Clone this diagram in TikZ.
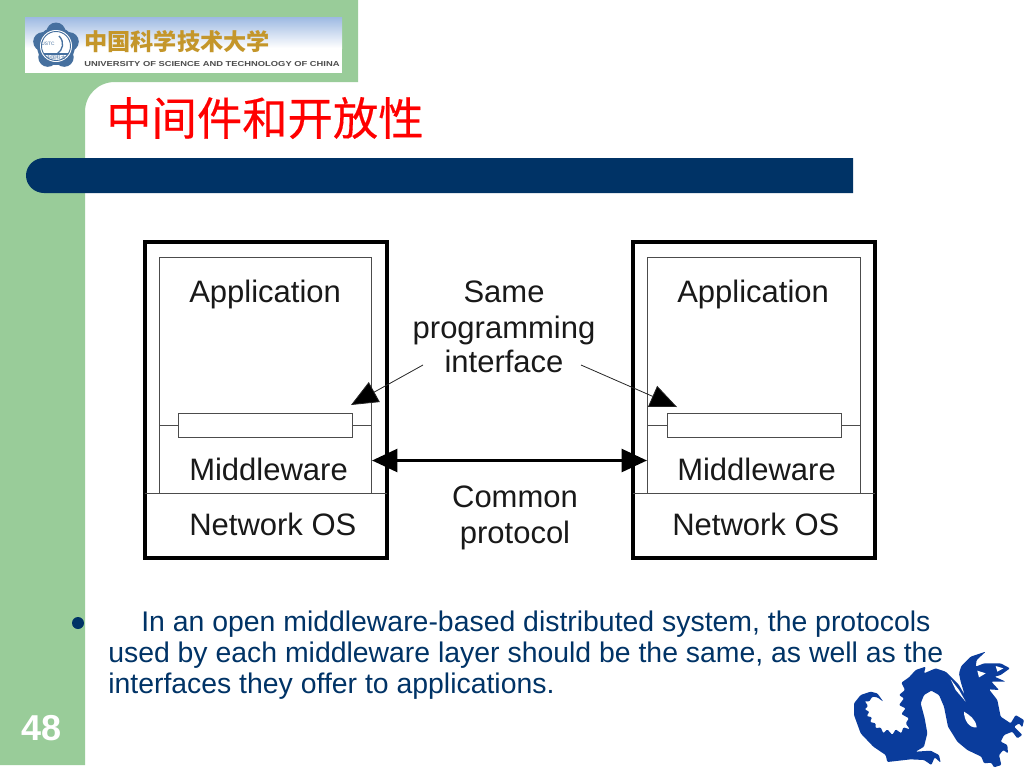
\documentclass[tikz,border=0pt]{standalone}
\usepackage{fontspec}
\setmainfont{Liberation Sans}
\newfontfamily\cjk{Noto Sans CJK SC}
\newfontfamily\cjktitle[FakeBold=0.3]{Noto Sans CJK SC}
\newfontfamily\wideen[FakeStretch=1.3]{Liberation Sans Bold}
\usetikzlibrary{arrows.meta}
\definecolor{stripgreen}{HTML}{99CC99}
\definecolor{navy}{HTML}{003366}
\definecolor{dragonblue}{HTML}{0A3C9C}
\definecolor{logoblue}{HTML}{9DB9E2}
\definecolor{sealblue}{HTML}{46709F}
\definecolor{gold}{HTML}{C4962A}
\tikzset{
 x=0.75pt,y=-0.75pt,
 outerbox/.style={draw=black,line width=3pt,inner sep=0,outer sep=0,minimum width=242*0.75pt,minimum height=316*0.75pt,anchor=north west},
 innerbox/.style={draw=black!70,line width=0.75pt,inner sep=0,outer sep=0,anchor=north west},
 thinline/.style={draw=black!70,line width=0.75pt},
 label/.style={anchor=base west,inner sep=0,font=\fontsize{23.25pt}{28pt}\selectfont,text=black!90},
 clabel/.style={anchor=base,inner sep=0,font=\fontsize{23.25pt}{28pt}\selectfont,text=black!90},
 bodyline/.style={anchor=base west,inner sep=0,font=\fontsize{21.3pt}{24pt}\selectfont,text=navy},
 thinarrow/.style={draw=black!85,line width=0.6pt,-{Triangle[length=20pt,width=17pt,fill=black]}},
 thickarrow/.style={draw=black,line width=2.6pt,{Triangle[length=19pt,width=17pt,fill=black]}-{Triangle[length=19pt,width=17pt,fill=black]}},
}
\begin{document}
\begin{tikzpicture}
\useasboundingbox (0,0) rectangle (1024,768);
% slide background
\fill[white] (0,0) rectangle (1024,768);
\fill[stripgreen] (0,0) -- (358,0) -- (358,82) -- (115,82) .. controls (98,82) and (85,95) .. (85,112) -- (85,765) -- (0,765) -- cycle;
\fill[navy] (44,158) -- (853,158) -- (853,193) -- (44,193) .. controls (34,193) and (26,185) .. (26,175.5) .. controls (26,166) and (34,158) .. (44,158) -- cycle;
% logo
\fill[white] (25,17) rectangle (342,73);
\shade[top color=logoblue,bottom color=white] (25,17) rectangle (342,48);
\fill[sealblue] (56,46) circle[radius=19];
\foreach \a in {0,72,144,216,288}{\fill[sealblue] (56,46)+(\a+90:-14) circle[radius=9.5];}
\fill[white] (56,46) circle[radius=16];
\draw[sealblue,line width=0.7pt] (56,46) circle[radius=14.5];
\draw[sealblue,line width=1pt] (44,54) -- (68,54);
\draw[sealblue,line width=1pt] (59,36) .. controls (65,42) and (63,50) .. (57,54);
\node[inner sep=0,text=sealblue,font=\fontsize{3.6pt}{5pt}\selectfont] (seal) at (48,44) {USTC};
\node[inner sep=0,text=sealblue,font=\cjk\fontsize{3.6pt}{5pt}\selectfont] (sealcn) at (56,58) {中国科大};
\node[inner sep=0,text=gold,anchor=west,font=\cjk\bfseries\fontsize{17.4pt}{20pt}\selectfont] (logocn) at (84,42) {中国科学技术大学};
\node[inner sep=0,text=black!70,anchor=west,font=\wideen\fontsize{5.4pt}{6pt}\selectfont] (logoen) at (84,64) {UNIVERSITY OF  SCIENCE AND TECHNOLOGY OF CHINA};
% title
\node[inner sep=0,anchor=west,text=red,font=\cjktitle\fontsize{34pt}{40pt}\selectfont] (title) at (106,118) {中间件和开放性};
% left machine
\node[outerbox] (lo) at (144.5,241.5) {};
\node[innerbox,minimum width=212*0.75pt,minimum height=236*0.75pt] (li) at (159,257) {};
\draw[thinline] (lo.west |- 0,493) coordinate (lsa) -- (lo.east |- 0,493) coordinate (lsb);
\node[innerbox,fill=white,minimum width=174*0.75pt,minimum height=24*0.75pt] (lm) at (178,413) {};
\draw[thinline] (li.west |- lm.west) -- (lm.west);
\draw[thinline] (lm.east) -- (li.east |- lm.east);
\node[label] (lapp) at (189,302) {Application};
\node[label] (lmid) at (189,480) {Middleware};
\node[label] (los) at (189,535) {Network OS};
% right machine
\node[outerbox] (ro) at (632.5,241.5) {};
\node[innerbox,minimum width=213*0.75pt,minimum height=236*0.75pt] (ri) at (647,257) {};
\draw[thinline] (ro.west |- 0,493) coordinate (rsa) -- (ro.east |- 0,493) coordinate (rsb);
\node[innerbox,fill=white,minimum width=174*0.75pt,minimum height=24*0.75pt] (rm) at (667,413) {};
\draw[thinline] (ri.west |- rm.west) -- (rm.west);
\draw[thinline] (rm.east) -- (ri.east |- rm.east);
\node[label] (rapp) at (677,302) {Application};
\node[label] (rmid) at (677,480) {Middleware};
\node[label] (ros) at (672,535) {Network OS};
% centre labels
\node[clabel] (same) at (504,302) {Same};
\node[clabel] (prog) at (504,338) {programming};
\node[clabel] (ifc) at (504,372) {interface};
\node[clabel] (comm) at (515,507) {Common};
\node[clabel] (prot) at (515,543) {protocol};
% connectors
\coordinate (ifcl) at (423,365);
\coordinate (ifcr) at (581,365);
\coordinate (tipl) at (351,405);
\coordinate (tipr) at (677,407);
\coordinate (protl) at (372,460.5);
\coordinate (protr) at (647,460.5);
\draw[thinarrow] (ifcl) -- (tipl);
\draw[thinarrow] (ifcr) -- (tipr);
\draw[thickarrow] (protl) -- (protr);
% body
\fill[navy] (78,623) circle[radius=6];
\node[bodyline] (b1) at (141,631) {In an open middleware-based distributed system, the protocols};
\node[bodyline] (b2) at (108,662) {used by each middleware layer should be the same, as well as the};
\node[bodyline] (b3) at (108,693) {interfaces they offer to applications.};
\node[inner sep=0,text=white,font=\bfseries\fontsize{27pt}{30pt}\selectfont] (num) at (42,728) {48};
% dragon
\begin{scope}[shift={(844,640)},x=0.25pt,y=-0.25pt]
\fill[dragonblue,line join=round,rounded corners=0.8pt] (118,185) -- (100,172) -- (85,170) -- (75,185) -- (62,183) -- (72,198) -- (62,208) -- (76,215) -- (68,228) -- (84,232) -- (78,246) -- (95,250) -- (95,265) -- (110,262) -- (118,280) -- (130,268) -- (145,285) -- (155,268) -- (172,280) -- (178,262) -- (198,268) -- (185,250) -- (195,235) -- (172,222) -- (185,205) -- (165,195) -- (180,175) -- (165,165) -- (183,150) -- (172,128) -- (195,112) -- (215,90) -- (245,80) -- (240,100) -- (275,85) -- (305,95) -- (325,115) -- (345,135) -- (362,165) -- (350,125) -- (345,100) -- (352,78) -- (380,50) -- (425,35) -- (398,60) -- (395,80) -- (420,70) -- (470,70) -- (498,85) -- (470,105) -- (452,110) -- (485,125) -- (442,125) -- (465,150) -- (435,148) -- (460,180) -- (470,230) -- (500,250) -- (515,225) -- (540,240) -- (535,262) -- (525,250) -- (510,260) -- (535,285) -- (520,295) -- (505,275) -- (480,285) -- (470,305) -- (490,315) -- (492,340) -- (478,330) -- (465,345) -- (472,375) -- (450,382) -- (442,368) -- (420,370) -- (412,350) -- (370,330) -- (340,305) -- (312,260) -- (300,200) -- (285,165) -- (262,152) -- (240,165) -- (230,190) -- (242,235) -- (250,280) -- (240,320) -- (215,335) -- (260,332) -- (285,345) -- (290,368) -- (272,352) -- (262,375) -- (240,360) -- (200,358) -- (130,366) -- (125,345) -- (88,320) -- (50,280) -- (30,225) -- (30,190) -- (50,165) -- (80,155) -- (100,160) -- cycle;
\fill[white] (360,215) .. controls (375,225) and (395,235) .. (398,262) .. controls (375,265) and (360,240) .. (360,215) -- cycle;
\fill[white] (400,92) -- (425,100) -- (405,112) -- cycle;
\fill[white] (455,78) -- (478,85) -- (460,95) -- cycle;
\fill[white] (320,118) -- (345,150) -- (365,185) -- (335,150) -- cycle;
\end{scope}
\end{tikzpicture}
\end{document}
